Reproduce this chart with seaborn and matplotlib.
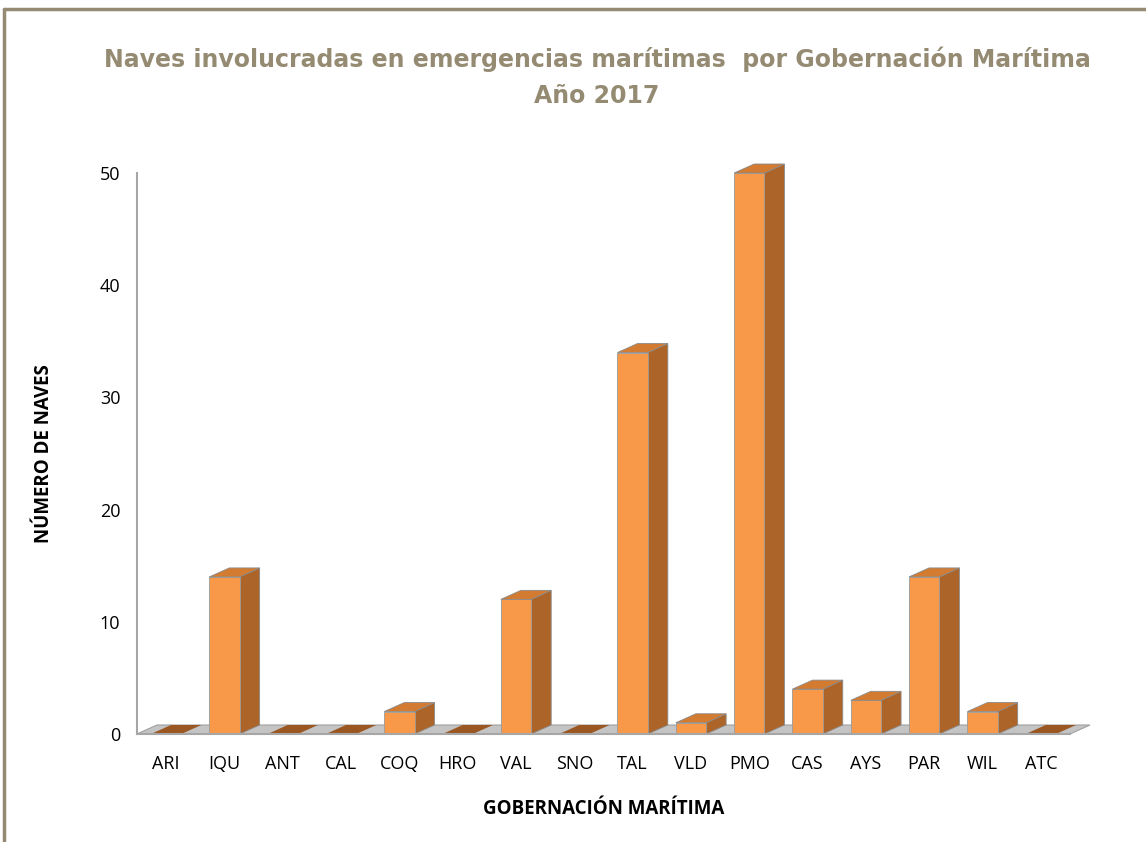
import matplotlib
matplotlib.use('Agg')
import matplotlib.pyplot as plt
from matplotlib.patches import Polygon
from matplotlib.lines import Line2D
import seaborn as sns
import pandas as pd

# Data
categories = ['ARI', 'IQU', 'ANT', 'CAL', 'COQ', 'HRO', 'VAL', 'SNO',
              'TAL', 'VLD', 'PMO', 'CAS', 'AYS', 'PAR', 'WIL', 'ATC']
naves = [0, 14, 0, 0, 2, 0, 12, 0, 34, 1, 50, 4, 3, 14, 2, 0]
y_ticks = [0, 10, 20, 30, 40, 50]

title_text = 'Naves involucradas en emergencias marítimas  por Gobernación Marítima\nAño 2017'
x_label = 'GOBERNACIÓN MARÍTIMA'
y_label = 'NÚMERO DE NAVES'

front_color = '#F8994A'
side_color = '#AC6428'
top_color = '#D37C31'
zero_color = '#9A5722'
floor_color = '#C4C4C4'
axis_color = '#A6A6A6'
title_color = '#958B73'

sns.set_style('white')
plt.rcParams['font.family'] = ['Open Sans', 'DejaVu Sans']

df = pd.DataFrame({'gob': categories, 'naves': naves})

fig = plt.figure(figsize=(11.46, 8.42), dpi=100)
ax = fig.add_axes([137 / 1146, 108 / 842, 933 / 1146, 561 / 842])

sns.barplot(data=df, x='gob', y='naves', color=front_color, width=0.52,
            saturation=1, edgecolor='#9A9A9A', linewidth=0.6, ax=ax, zorder=3)

ax.set_xlim(-0.5, len(categories) - 0.5)
ax.set_ylim(0, 50)

# depth of the 3D effect, in pixels -> data units
ax_w_px = 933
ax_h_px = 561
dx = 20 * (len(categories)) / ax_w_px
dy = 9 * 50 / ax_h_px

# floor
x0, x1 = -0.5, len(categories) - 0.5
ax.add_patch(Polygon([(x0, 0), (x1, 0), (x1 + dx, dy), (x0 + dx, dy)],
                     closed=True, facecolor=floor_color, edgecolor='#A0A0A0',
                     linewidth=0.8, zorder=1, clip_on=False))

for p, v in zip(ax.patches[:len(categories)], naves):
    xl = p.get_x()
    xr = xl + p.get_width()
    h = p.get_height()
    if v == 0:
        p.set_visible(False)
        ax.add_patch(Polygon([(xl, 0), (xr, 0), (xr + dx, dy), (xl + dx, dy)],
                             closed=True, facecolor=zero_color, edgecolor='none',
                             zorder=2, clip_on=False))
        continue
    p.set_clip_on(False)
    # side face
    ax.add_patch(Polygon([(xr, 0), (xr + dx, dy), (xr + dx, h + dy), (xr, h)],
                         closed=True, facecolor=side_color, edgecolor='#8A8A8A',
                         linewidth=0.6, zorder=2, clip_on=False))
    # top face
    ax.add_patch(Polygon([(xl, h), (xr, h), (xr + dx, h + dy), (xl + dx, h + dy)],
                         closed=True, facecolor=top_color, edgecolor='#8A8A8A',
                         linewidth=0.6, zorder=4, clip_on=False))

# axes styling
for side in ['top', 'right']:
    ax.spines[side].set_visible(False)
for side in ['left', 'bottom']:
    ax.spines[side].set_color(axis_color)
    ax.spines[side].set_linewidth(1.5)
    ax.spines[side].set_zorder(5)

ax.set_yticks(y_ticks)
ax.tick_params(axis='y', length=7, width=1.2, color=axis_color, pad=5,
               labelsize=13, labelcolor='black')
ax.set_xticks(range(len(categories)))
ax.set_xticklabels(categories)
ax.set_xticks([i - 0.5 for i in range(len(categories) + 1)], minor=True)
ax.tick_params(axis='x', which='major', length=0, pad=15, labelsize=13, labelcolor='black')
ax.tick_params(axis='x', which='minor', length=6, width=1.2, color=axis_color)

ax.set_xlabel(x_label, fontsize=13.5, fontweight='bold', labelpad=19, color='black')
ax.set_ylabel(y_label, fontsize=13.5, fontweight='bold', labelpad=33, color='black')
ax.grid(False)

fig.text(0.521, 1 - 77 / 842, title_text, ha='center', va='center', fontsize=17,
         fontweight='bold', color=title_color, linespacing=1.65,
         family=['DejaVu Sans'])

# chart border (top and left)
fig.add_artist(Line2D([4 / 1146, 1], [1 - 9 / 842, 1 - 9 / 842], color=title_color, linewidth=2.5))
fig.add_artist(Line2D([4 / 1146, 4 / 1146], [0, 1 - 9 / 842], color=title_color, linewidth=2.5))

fig.savefig('out.png', dpi=100)
